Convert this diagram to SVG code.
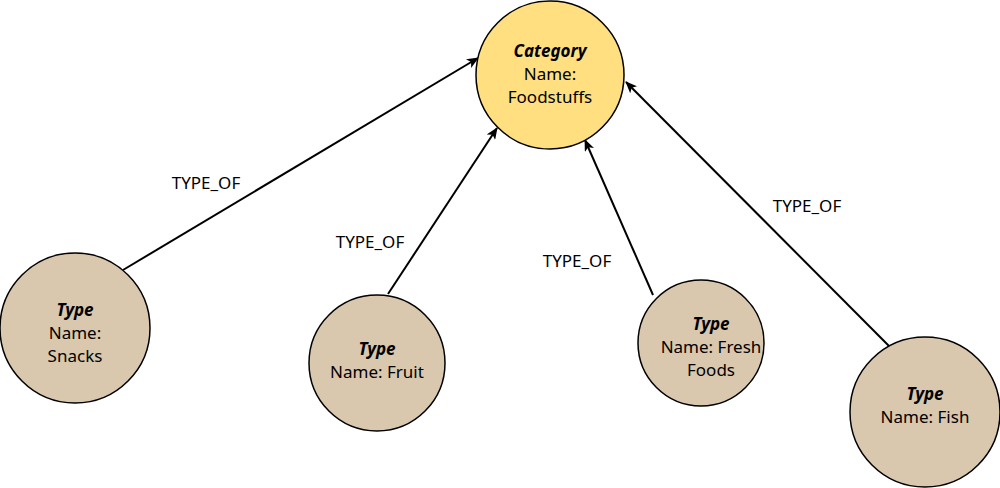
<svg xmlns="http://www.w3.org/2000/svg" width="1000" height="488" viewBox="0 0 1000 488">
<defs>
<marker id="ah" markerWidth="12" markerHeight="10" refX="11" refY="5" orient="auto" markerUnits="userSpaceOnUse"><path d="M0,0 L12,5 L0,10 L3,5 Z" fill="#000"/></marker>
<style>
.n{stroke:#000;stroke-width:1.5}
.cat{fill:#FFDF80}
.typ{fill:#D9C7AE}
text{font-family:"Noto Sans","Liberation Sans",sans-serif;font-size:17px;fill:#000;text-anchor:middle}
.b{font-weight:bold;font-style:italic}
.e{stroke:#000;stroke-width:2;fill:none;marker-end:url(#ah)}
</style>
</defs>
<rect width="1000" height="488" fill="#fff"/>
<g id="connectors">
<line class="e" x1="123" y1="270" x2="478" y2="58"/>
<line class="e" x1="388" y1="294" x2="497" y2="128"/>
<line class="e" x1="653" y1="295" x2="585" y2="140"/>
<line class="e" x1="890" y1="347" x2="626" y2="82"/>
<text x="206" y="189">TYPE_OF</text>
<text x="370" y="248">TYPE_OF</text>
<text x="577" y="267">TYPE_OF</text>
<text x="807" y="212">TYPE_OF</text>
</g>
<g id="category"><circle class="n cat" cx="550" cy="75" r="74"/>
<text x="550" y="57" class="b">Category</text><text x="550" y="80">Name:</text><text x="550" y="103">Foodstuffs</text></g>
<g id="snacks"><circle class="n typ" cx="75" cy="328" r="75"/>
<text x="75" y="316" class="b">Type</text><text x="75" y="339">Name:</text><text x="75" y="362">Snacks</text></g>
<g id="fruit"><circle class="n typ" cx="377" cy="363" r="68"/>
<text x="377" y="355" class="b">Type</text><text x="377" y="378">Name: Fruit</text></g>
<g id="fresh"><circle class="n typ" cx="701" cy="343" r="63"/>
<text x="711" y="330" class="b">Type</text><text x="711" y="353">Name: Fresh</text><text x="711" y="376">Foods</text></g>
<g id="fish"><circle class="n typ" cx="925" cy="412" r="75"/>
<text x="925" y="400" class="b">Type</text><text x="925" y="423">Name: Fish</text></g>
</svg>
